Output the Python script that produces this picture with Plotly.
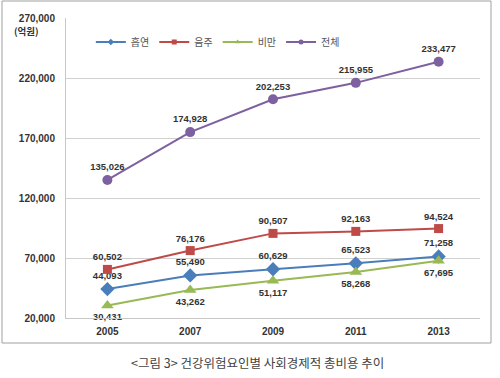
import plotly.graph_objects as go

years = ["2005", "2007", "2009", "2011", "2013"]
smoking = [44093, 55490, 60629, 65523, 71258]
drinking = [60502, 76176, 90507, 92163, 94524]
obesity = [30431, 43262, 51117, 58268, 67695]
total = [135026, 174928, 202253, 215955, 233477]

series = [
    ("흡연", smoking, "#4A7EBB", "diamond", 11, "top center"),
    ("음주", drinking, "#BE4B48", "square", 9, "top center"),
    ("비만", obesity, "#98B954", "triangle-up", 11, "bottom center"),
    ("전체", total, "#7D60A0", "circle", 10, "top center"),
]

bold = dict(family="Liberation Sans, Arial, sans-serif", size=9.5, color="#333333", weight="bold")

fig = go.Figure()
for name, vals, color, sym, size, tpos in series:
    fig.add_trace(go.Scatter(
        x=years, y=vals, name=name, mode="lines+markers+text", showlegend=False,
        line=dict(color=color, width=2),
        marker=dict(symbol=sym, size=size, color=color),
        text=[f"{v:,}" for v in vals], textposition=tpos,
        textfont=bold, cliponaxis=False,
    ))
for name, vals, color, sym, size, tpos in series:
    fig.add_trace(go.Scatter(
        x=[None], y=[None], name=name, mode="lines+markers",
        line=dict(color=color, width=2),
        marker=dict(symbol=sym, size=5, color=color),
    ))

fig.update_layout(
    width=500, height=378,
    margin=dict(l=66, r=20, t=18, b=60),
    paper_bgcolor="white", plot_bgcolor="white",
    font=dict(family="Liberation Sans, Arial, sans-serif", color="#333333"),
    showlegend=True,
    legend=dict(orientation="h", x=0.06, y=0.92, xanchor="left", yanchor="middle",
                font=dict(size=10, color="#555555", family="Noto Sans CJK KR"),
                bgcolor="rgba(0,0,0,0)", itemwidth=30, tracegroupgap=0),
    xaxis=dict(type="category", range=[-0.5, 4.5], showgrid=False,
               showline=True, linecolor="#C8C8C8", linewidth=1,
               ticks="", ticklabelstandoff=4,
               tickfont=dict(size=10, family="Liberation Sans, Arial", color="#333333", weight="bold")),
    yaxis=dict(range=[20000, 270000], tick0=20000, dtick=50000, tickformat=",",
               showgrid=True, gridcolor="#D0D0D0", gridwidth=1,
               showline=True, linecolor="#C8C8C8", linewidth=1,
               zeroline=False, ticks="", ticklabelstandoff=8,
               tickfont=dict(size=10, family="Liberation Sans, Arial", color="#333333", weight="bold")),
    annotations=[
        dict(text="(억원)", xref="paper", yref="paper", x=-0.095, y=(318 - 31) / 300,
             xanchor="center", yanchor="middle", showarrow=False,
             font=dict(size=9.5, color="#333333", family="Noto Sans CJK KR", weight="bold")),
        dict(text="<그림 3> 건강위험요인별 사회경제적 총비용 추이", xref="paper", yref="paper",
             x=(257 - 66) / 414, y=(318 - 362) / 300, xanchor="center", yanchor="middle",
             showarrow=False, font=dict(size=12.5, color="#444444", family="Noto Sans CJK KR")),
    ],
    shapes=[
        dict(type="rect", xref="paper", yref="paper",
             x0=(2 - 66) / 414, x1=(491 - 66) / 414,
             y0=(318 - 343) / 300, y1=(318 - 1) / 300,
             line=dict(color="#A0A0A0", width=1), fillcolor="rgba(0,0,0,0)", layer="below"),
    ],
)

fig.write_html("out.html", config={"displayModeBar": False},
               post_script="document.body.style.margin='0';document.body.style.overflow='hidden';")
